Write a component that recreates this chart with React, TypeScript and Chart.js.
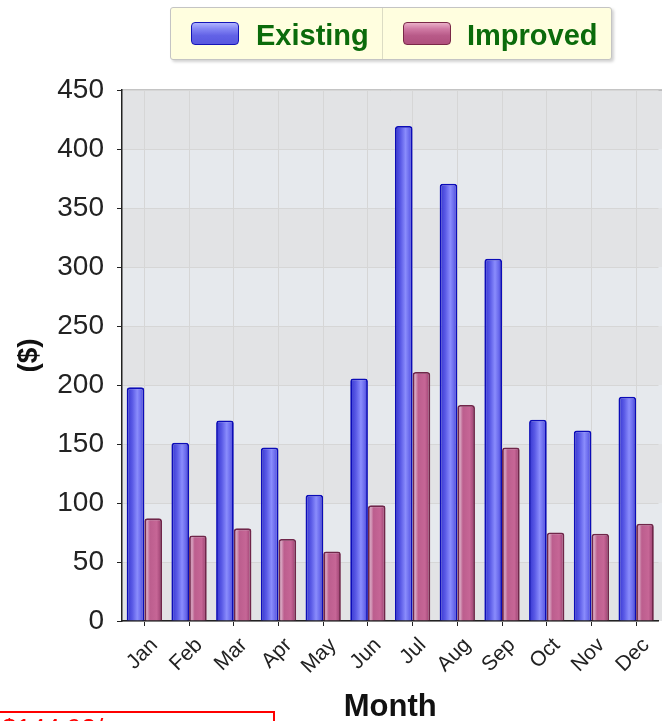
import React, { useEffect, useRef } from "react";
import { Chart, registerables } from "chart.js";

Chart.register(...registerables);

const months = ["Jan", "Feb", "Mar", "Apr", "May", "Jun", "Jul", "Aug", "Sep", "Oct", "Nov", "Dec"];
const existing = [198, 151, 170, 147, 107, 205.5, 419.5, 370.5, 307, 170.5, 161.5, 190];
const improved = [87, 72.5, 78.5, 69.5, 59, 98, 211, 183, 147, 75, 74, 82.5];
const yTicks = [0, 50, 100, 150, 200, 250, 300, 350, 400, 450];
const seriesNames = ["Existing", "Improved"];
const summaryText = "$144.93/mo";

const CAT_PCT = 0.79;
const FONT = "'Liberation Sans', Arial, sans-serif";

const blueStops: [number, string][] = [
  [0, "#2828c4"], [0.12, "#4242d8"], [0.32, "#5a5ae6"], [0.6, "#8a8cfc"], [0.82, "#6868ec"], [1, "#3c3cce"],
];
const pinkStops: [number, string][] = [
  [0, "#a04e7a"], [0.16, "#d8a4c0"], [0.32, "#bc5e8e"], [0.7, "#c66696"], [0.9, "#a64a7a"], [1, "#8e3e6a"],
];

function gradientFill(stops: [number, string][], solid: string, dsIndex: number) {
  return (c: any) => {
    const chart = c.chart;
    const xs = chart.scales && chart.scales.x;
    const area = chart.chartArea;
    if (!xs || !area || c.dataIndex === undefined) return solid;
    const center = xs.getPixelForValue(c.dataIndex);
    const cat = (area.right - area.left) / months.length;
    const w = (cat * CAT_PCT) / 2;
    const left = dsIndex === 0 ? center - w : center;
    const g = chart.ctx.createLinearGradient(left, 0, left + w, 0);
    stops.forEach(([o, col]) => g.addColorStop(o, col));
    return g;
  };
}

const bandsPlugin = {
  id: "bands",
  beforeDraw(chart: any) {
    const { ctx, chartArea } = chart;
    const y = chart.scales.y;
    if (!chartArea || !y) return;
    ctx.save();
    for (let i = 0; i < yTicks.length - 1; i++) {
      const top = y.getPixelForValue(yTicks[i + 1]);
      const bottom = y.getPixelForValue(yTicks[i]);
      ctx.fillStyle = i % 2 === 0 ? "#e2e3e5" : "#e6e9ed";
      ctx.fillRect(chartArea.left, top, chart.width - chartArea.left, bottom - top);
    }
    ctx.strokeStyle = "#b0b0b0";
    ctx.lineWidth = 1.5;
    ctx.beginPath();
    ctx.moveTo(chartArea.left, chartArea.top);
    ctx.lineTo(chart.width, chartArea.top);
    ctx.stroke();
    ctx.restore();
  },
};

function ChartCanvas() {
  const ref = useRef<HTMLCanvasElement | null>(null);
  useEffect(() => {
    if (!ref.current) return;
    const chart = new Chart(ref.current, {
      type: "bar",
      data: {
        labels: months,
        datasets: [
          {
            label: seriesNames[0],
            data: existing,
            backgroundColor: gradientFill(blueStops, "#6464ec", 0),
            borderColor: "#0c0cb8",
            borderWidth: 1.8,
            borderRadius: { topLeft: 3, topRight: 3, bottomLeft: 0, bottomRight: 0 },
            borderSkipped: "bottom",
            categoryPercentage: CAT_PCT,
            barPercentage: 1,
          },
          {
            label: seriesNames[1],
            data: improved,
            backgroundColor: gradientFill(pinkStops, "#c06090", 1),
            borderColor: "#70264a",
            borderWidth: 1.8,
            borderRadius: { topLeft: 3, topRight: 3, bottomLeft: 0, bottomRight: 0 },
            borderSkipped: "bottom",
            categoryPercentage: CAT_PCT,
            barPercentage: 1,
          },
        ],
      },
      options: {
        responsive: false,
        animation: false,
        events: [],
        layout: { padding: { top: 90, right: 3.5, bottom: 0, left: 0 } },
        plugins: {
          legend: { display: false },
          tooltip: { enabled: false },
        },
        scales: {
          x: {
            grid: {
              offset: false,
              color: "#d6d6d6",
              tickColor: "#222",
              tickLength: 5,
            },
            border: { color: "#222", width: 1.5 },
            ticks: {
              maxRotation: 45,
              minRotation: 45,
              color: "#222",
              padding: 7,
              labelOffset: 10,
              font: { family: FONT, size: 21 },
            },
            title: {
              display: true,
              text: "Month",
              color: "#111",
              padding: { top: 0, bottom: -5 },
              font: { family: FONT, size: 31, weight: "bold" },
            },
            afterFit: (s: any) => {
              s.height = 100;
            },
          },
          y: {
            min: 0,
            max: 450,
            ticks: {
              stepSize: 50,
              color: "#222",
              padding: 13,
              font: { family: FONT, size: 28 },
            },
            grid: {
              color: "#d6d6d6",
              tickColor: "#222",
              tickLength: 5,
            },
            border: { color: "#222", width: 1.5 },
            title: {
              display: true,
              text: "($)",
              color: "#111",
              padding: { top: 12, bottom: 0 },
              font: { family: FONT, size: 28, weight: "bold" },
            },
            afterFit: (s: any) => {
              s.width = 122;
            },
          },
        },
      },
      plugins: [bandsPlugin],
    });
    return () => chart.destroy();
  }, []);
  return (
    <canvas
      ref={ref}
      width={662}
      height={721}
      style={{ position: "absolute", left: 0, top: 0, width: 662, height: 721 }}
    />
  );
}

const legendText: React.CSSProperties = {
  position: "absolute",
  fontFamily: FONT,
  fontWeight: "bold",
  fontSize: 29,
  lineHeight: "36px",
  color: "#0b6b0b",
  whiteSpace: "nowrap",
};

export default function App() {
  return (
    <div
      style={{
        position: "fixed",
        left: 0,
        top: 0,
        width: 662,
        height: 721,
        overflow: "hidden",
        background: "#ffffff",
      }}
    >
      <ChartCanvas />
      <div
        style={{
          position: "absolute",
          left: 170,
          top: 7,
          width: 440,
          height: 51,
          background: "#fffedf",
          border: "1px solid #c4c4c4",
          borderRadius: 3,
          boxShadow: "2px 2px 3px rgba(0,0,0,0.18)",
        }}
      >
        <div style={{ position: "absolute", left: 211, top: 0, width: 1, height: 51, background: "#dcdcc4" }} />
        <div
          style={{
            position: "absolute",
            left: 20,
            top: 14,
            width: 46,
            height: 21,
            borderRadius: 4,
            border: "1.5px solid #1414b8",
            background: "linear-gradient(to bottom, #b0b4ff 0%, #8486f4 28%, #6262e6 60%, #5858e0 100%)",
          }}
        />
        <div style={{ ...legendText, left: 85, top: 9 }}>{seriesNames[0]}</div>
        <div
          style={{
            position: "absolute",
            left: 232,
            top: 14,
            width: 46,
            height: 21,
            borderRadius: 4,
            border: "1.5px solid #7a2848",
            background: "linear-gradient(to bottom, #eab0c8 0%, #d07aa4 28%, #b85a88 60%, #b0507e 100%)",
          }}
        />
        <div style={{ ...legendText, left: 296, top: 9 }}>{seriesNames[1]}</div>
      </div>
      <div
        style={{
          position: "absolute",
          left: -2,
          top: 711,
          width: 277,
          height: 40,
          border: "2px solid #ff0000",
          boxSizing: "border-box",
          color: "#ff0000",
          fontFamily: FONT,
          fontSize: 26,
          lineHeight: "26px",
          paddingTop: 2,
          paddingLeft: 2,
          whiteSpace: "nowrap",
        }}
      >
        {summaryText}
      </div>
    </div>
  );
}
